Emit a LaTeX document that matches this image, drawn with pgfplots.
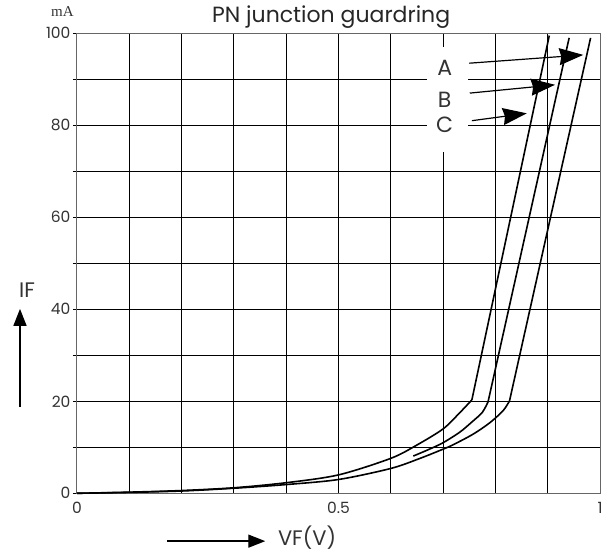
\documentclass[border=0pt]{standalone}
\usepackage{fontspec}
\setmainfont{Poppins}
\newfontfamily\seriffont{Liberation Serif}
\usepackage{pgfplots}
\pgfplotsset{compat=1.18}
\usetikzlibrary{arrows.meta}

\begin{document}
\begin{tikzpicture}
\begin{axis}[name=ax, scale only axis, width=523pt, height=460pt,
 xmin=0,xmax=1,ymin=0,ymax=100,
 xtick={0,0.5,1}, xticklabels={0,0.5,1},
 minor xtick={0.1,0.2,0.3,0.4,0.6,0.7,0.8,0.9},
 ytick={0,20,40,60,80,100}, minor ytick={10,30,50,70,90},
 grid=both,
 major grid style={black, line width=1pt},
 minor grid style={black, line width=1pt},
 axis line style={black!60, line width=1pt},
 tick align=outside, ytick pos=left, xtick pos=bottom,
 x tick style={draw=none}, y tick style={black, line width=0.8pt},
 major tick length=4pt, minor tick length=4pt,
 ticklabel style={font=\fontsize{15.5}{17}\selectfont, text=black!80},
 yticklabel style={xshift=1pt},
 xticklabel style={yshift=-1pt},
 /pgf/number format/assume math mode=true,
 clip=false,
]
% white box behind labels
\fill[white] (axis cs:0.669,74.2) rectangle (axis cs:0.748,97.0);

% curve A
\addplot[black, line width=1.6pt, smooth, tension=0.5] coordinates {
 (0,0) (0.1,0.25) (0.2,0.6) (0.3,1.2) (0.4,2.3) (0.5,4.0) (0.6,7.6)
 (0.65,10.5) (0.7,14.0) (0.73,17.3) (0.755,20.3)};
\addplot[black, line width=1.6pt] coordinates {(0.755,20.3) (0.903,99.5)};
% curve B
\addplot[black, line width=1.6pt, smooth, tension=0.5] coordinates {
 (0.643,8.1) (0.672,9.5) (0.70,11.0) (0.732,13.3) (0.755,15.5) (0.775,17.6) (0.786,19.9)};
\addplot[black, line width=1.6pt] coordinates {(0.786,19.9) (0.941,99.0)};
% curve C
\addplot[black, line width=1.6pt, smooth, tension=0.5] coordinates {
 (0,0) (0.1,0.2) (0.2,0.5) (0.3,1.1) (0.4,1.9) (0.5,3.0) (0.6,5.4)
 (0.656,7.6) (0.7,9.6) (0.72,10.6) (0.758,12.9) (0.79,15.4) (0.815,18.0) (0.827,20.1)};
\addplot[black, line width=1.6pt] coordinates {(0.827,20.1) (0.982,99.0)};

% labels and arrows
\node[font=\fontsize{22}{24}\selectfont, text=black!80] at (axis cs:0.703,92.4) {A};
\node[font=\fontsize{22}{24}\selectfont, text=black!80] at (axis cs:0.703,85.5) {B};
\node[font=\fontsize{22}{24}\selectfont, text=black!80] at (axis cs:0.703,80.1) {C};
\draw[-{Stealth[length=24pt,width=17pt,inset=2pt]}, line width=1.2pt] (axis cs:0.750,93.5) -- (axis cs:0.968,95.3);
\draw[-{Stealth[length=24pt,width=17pt,inset=2pt]}, line width=1.2pt] (axis cs:0.751,87.0) -- (axis cs:0.914,88.8);
\draw[-{Stealth[length=24pt,width=17pt,inset=2pt]}, line width=1.2pt] (axis cs:0.755,81.0) -- (axis cs:0.860,82.6);

% title and unit
\node[font=\fontsize{22}{24}\selectfont, text=black!85] at (axis cs:0.486,103.6) {PN junction guardring};
\node[font=\seriffont\fontsize{15}{16}\selectfont, text=black!80] at (axis cs:-0.028,104.8) {mA};

% IF axis label
\node[font=\fontsize{21}{24}\selectfont, text=black!80] at (axis cs:-0.0956,44.2) {IF};
\draw[-{Triangle[length=17pt,width=13pt]}, line width=1.4pt] (axis cs:-0.109,18.8) -- (axis cs:-0.109,40.1);

% VF axis label
\draw[-{Triangle[length=17pt,width=13pt]}, line width=1.4pt] (axis cs:0.172,-10.4) -- (axis cs:0.360,-10.4);
\node[anchor=west, inner sep=0pt, font=\fontsize{21}{24}\selectfont, text=black!80] at (axis cs:0.384,-9.7) {VF(V)};
\end{axis}
\path (ax.south west) ++(-77pt,-62.7pt);
\path (ax.north east) ++(15pt,33.3pt);
\end{tikzpicture}
\end{document}
